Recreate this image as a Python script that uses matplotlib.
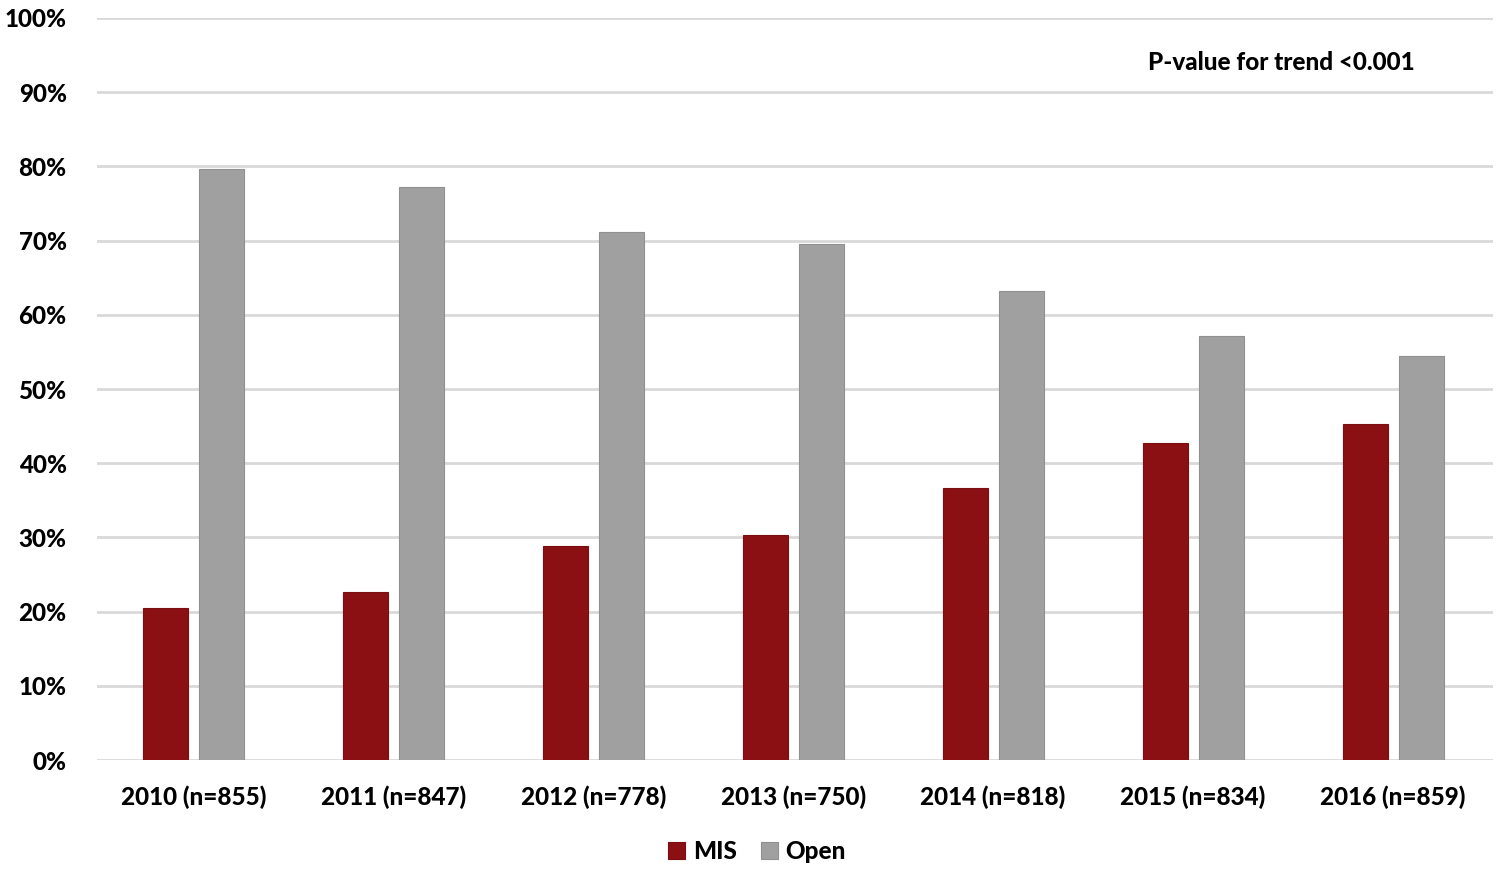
import numpy as np
import matplotlib.pyplot as plt
from matplotlib.ticker import PercentFormatter

plt.rcParams['font.family'] = ['Lato', 'DejaVu Sans']
plt.rcParams['font.weight'] = 'black'

years = ['2010 (n=855)', '2011 (n=847)', '2012 (n=778)', '2013 (n=750)',
         '2014 (n=818)', '2015 (n=834)', '2016 (n=859)']
mis = [20.5, 22.7, 28.8, 30.3, 36.6, 42.7, 45.3]
open_ = [79.7, 77.2, 71.1, 69.5, 63.2, 57.2, 54.4]

ind = np.arange(len(years))
width = 0.225
off = 0.14

fig = plt.figure(figsize=(14.96, 8.69), dpi=100)
ax = fig.add_axes([0.065, 0.1254, 0.933, 0.8539])

ax.bar(ind - off, mis, width, color='#8B1014', edgecolor='#7a0e12', linewidth=0.8,
       label='MIS', zorder=3)
ax.bar(ind + off, open_, width, color='#A0A0A0', edgecolor='#909090', linewidth=0.8,
       label='Open', zorder=3)

ax.set_ylim(0, 100)
ax.set_xlim(-0.48, 6.5)
ax.set_yticks(np.arange(0, 101, 10))
ax.yaxis.set_major_formatter(PercentFormatter(decimals=0))
ax.set_xticks(ind)
ax.set_xticklabels(years)
ax.grid(axis='y', color='#D9D9D9', linewidth=2, zorder=0)
for sp in ax.spines.values():
    sp.set_visible(False)
ax.tick_params(axis='both', length=0, labelsize=17.5)
ax.tick_params(axis='x', pad=18)
ax.tick_params(axis='y', pad=22)

ax.text(0.848, 0.94, 'P-value for trend <0.001', transform=ax.transAxes,
        ha='center', va='center', fontsize=17.5)

fig.legend(loc='center', bbox_to_anchor=(0.506, 0.02), ncol=2, frameon=False,
           fontsize=17.5, handlelength=0.7, handleheight=0.7, handletextpad=0.3,
           columnspacing=1.0)

fig.savefig('out.png', dpi=100)
